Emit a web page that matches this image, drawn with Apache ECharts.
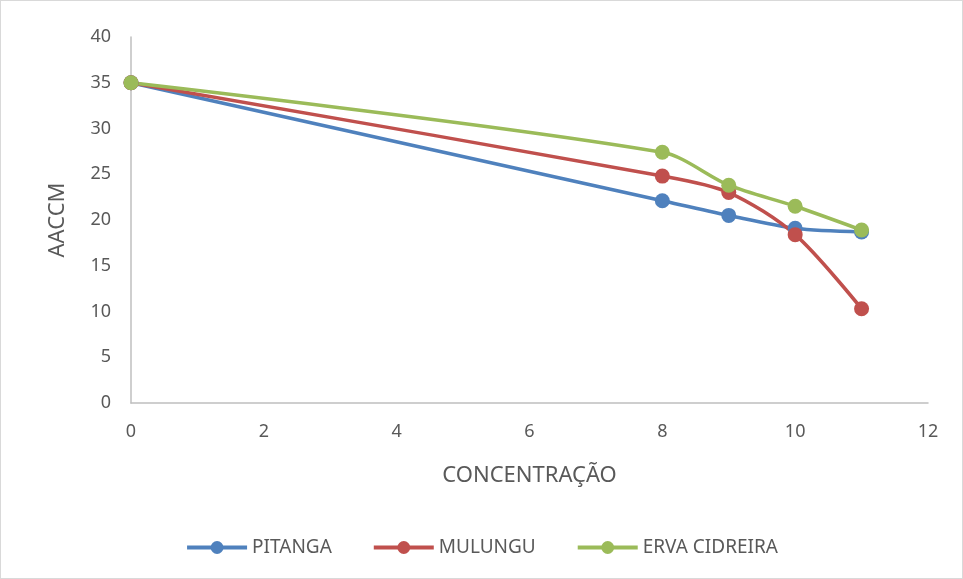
<!DOCTYPE html>
<html>
<head>
<meta charset="utf-8">
<script src="https://cdn.jsdelivr.net/npm/echarts@6/dist/echarts.min.js"></script>
<style>
  html, body { margin: 0; padding: 0; background: #fff; }
  #chart { width: 961px; height: 577px; border: 1px solid #d9d9d9; }
</style>
</head>
<body>
<div id="chart"></div>
<script>
const concentrations = [0, 8, 9, 10, 11]
const pitanga = [35, 22.1, 20.5, 19.1, 18.7]
const mulungu = [35, 24.8, 23.0, 18.4, 10.3]
const ervaCidreira = [35, 27.4, 23.8, 21.5, 18.9]
const seriesNames = ['PITANGA', 'MULUNGU', 'ERVA CIDREIRA']
const seriesColors = ['#4f81bd', '#c0504d', '#9bbb59']

const textColor = '#595959'
const fontFamily = 'Noto Sans, Open Sans, sans-serif'

const toPairs = (vals) => concentrations.map((x, i) => [x, vals[i]])

const chart = echarts.init(document.getElementById('chart'))
chart.setOption({
  animation: false,
  color: seriesColors,
  textStyle: { fontFamily },
  legend: {
    bottom: 16,
    left: 'center',
    itemWidth: 60,
    itemHeight: 16,
    itemGap: 40,
    lineStyle: { width: 4 },
    textStyle: { color: textColor, fontSize: 19, fontFamily }
  },
  grid: { left: 130, right: 34, top: 36, bottom: 175 },
  xAxis: {
    type: 'value',
    min: 0,
    max: 12,
    interval: 2,
    name: 'CONCENTRAÇÃO',
    nameLocation: 'middle',
    nameGap: 62,
    nameTextStyle: { color: textColor, fontSize: 22, fontFamily },
    splitLine: { show: false },
    axisTick: { show: false },
    axisLine: { show: true, lineStyle: { color: '#bfbfbf', width: 1.5 } },
    axisLabel: { color: textColor, fontSize: 18, margin: 20 }
  },
  yAxis: {
    type: 'value',
    min: 0,
    max: 40,
    interval: 5,
    name: 'AACCM',
    nameLocation: 'middle',
    nameGap: 62,
    nameTextStyle: { color: textColor, fontSize: 22, fontFamily },
    splitLine: { show: false },
    axisTick: { show: false },
    axisLine: { show: true, lineStyle: { color: '#bfbfbf', width: 1.5 } },
    axisLabel: { color: textColor, fontSize: 18, margin: 20 }
  },
  series: [pitanga, mulungu, ervaCidreira].map((vals, i) => ({
    name: seriesNames[i],
    type: 'line',
    data: toPairs(vals),
    smooth: 0.3,
    symbol: 'circle',
    symbolSize: 15,
    lineStyle: { width: 3.5, color: seriesColors[i] },
    itemStyle: { color: seriesColors[i] }
  }))
})
</script>
</body>
</html>
